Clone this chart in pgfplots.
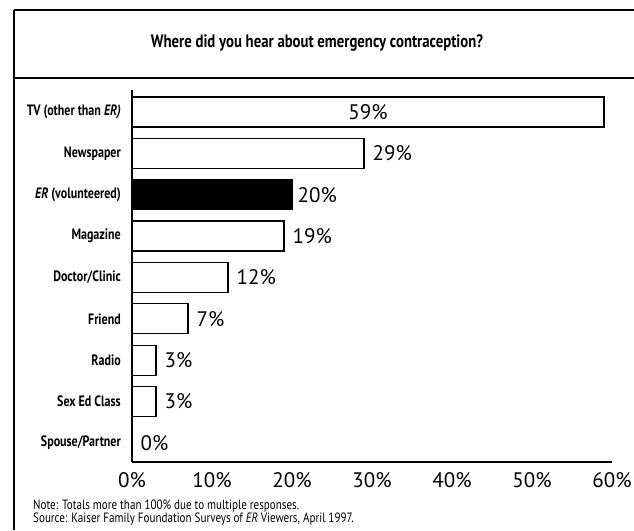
\documentclass[border=0pt]{standalone}
\usepackage{pgfplots}
\pgfplotsset{compat=1.18}
\usepackage{fontspec}
\setmainfont{PT Sans}
\newfontfamily\cond[FakeStretch=0.82]{PT Sans}
\newfontfamily\condl[FakeStretch=0.8]{PT Sans}
\begin{document}
\begin{tikzpicture}[x=1pt,y=1pt]
\useasboundingbox (0,0) rectangle (634,530);
% frame
\draw[line width=1.5pt] (14,520) -- (634,520);
\draw[line width=1.5pt] (14,452) -- (634,452);
\draw[line width=1.5pt] (14,520) -- (14,0);
\node[font=\cond\bfseries\fontsize{18}{18}\selectfont] at (317,487) {Where did you hear about emergency contraception?};
\begin{axis}[
  at={(132pt,68pt)}, anchor=south west,
  scale only axis, width=480pt, height=372pt,
  xmin=0, xmax=60, ymin=-0.46, ymax=8.53,
  axis x line*=bottom, axis y line*=left,
  x axis line style={line width=2.5pt, -},
  y axis line style={line width=1.8pt, -},
  major tick length=0pt,
  /pgf/number format/assume math mode=true,
  xtick={0,10,20,30,40,50,60},
  xticklabels={0\%,10\%,20\%,30\%,40\%,50\%,60\%},
  xticklabel style={font=\fontsize{21}{21}\selectfont, anchor=north, inner sep=0pt, yshift=-10pt},
  ytick={0,1,2,3,4,5,6,7,8},
  yticklabels={Spouse/Partner, Sex Ed Class, Radio, Friend, Doctor/Clinic, Magazine, {\itshape ER} (volunteered), Newspaper, {TV (other than \itshape ER)}},
  yticklabel style={font=\condl\bfseries\fontsize{15}{15}\selectfont, anchor=east, inner sep=0pt, xshift=-11pt},
  clip=false,
  nodes near coords style={font=\fontsize{21}{21}\selectfont, inner sep=0pt},
]
% white bars with labels
\addplot[xbar, bar width=0.725, bar shift=0pt, fill=white, draw=black, line width=1.3pt,
  nodes near coords={\pgfmathprintnumber{\pgfplotspointmeta}\%},
  nodes near coords align=horizontal,
  every node near coord/.append style={anchor=west, xshift=8pt}]
  coordinates {(29,7) (19,5) (12,4) (7,3) (3,2) (3,1) (0,0)};
% ER bar (black)
\addplot[xbar, bar width=0.725, bar shift=0pt, fill=black, draw=black, line width=1.3pt,
  nodes near coords={\pgfmathprintnumber{\pgfplotspointmeta}\%},
  nodes near coords align=horizontal,
  every node near coord/.append style={anchor=west, xshift=5pt}]
  coordinates {(20,6)};
% TV bar
\addplot[xbar, bar width=0.725, bar shift=0pt, fill=white, draw=black, line width=1.3pt]
  coordinates {(59,8)};
% TV label inside bar
\addplot[only marks, mark=none, point meta=explicit symbolic, nodes near coords,
  every node near coord/.append style={anchor=center}]
  coordinates {(29.5,8) [59\%]};
\end{axis}
\node[anchor=base west, font=\cond\fontsize{13.5}{13.5}\selectfont, inner sep=0pt] at (33,21) {Note: Totals more than 100\% due to multiple responses.};
\node[anchor=base west, font=\cond\fontsize{13.5}{13.5}\selectfont, inner sep=0pt] at (33,8) {Source: Kaiser Family Foundation Surveys of {\itshape ER} Viewers, April 1997.};
\end{tikzpicture}
\end{document}
